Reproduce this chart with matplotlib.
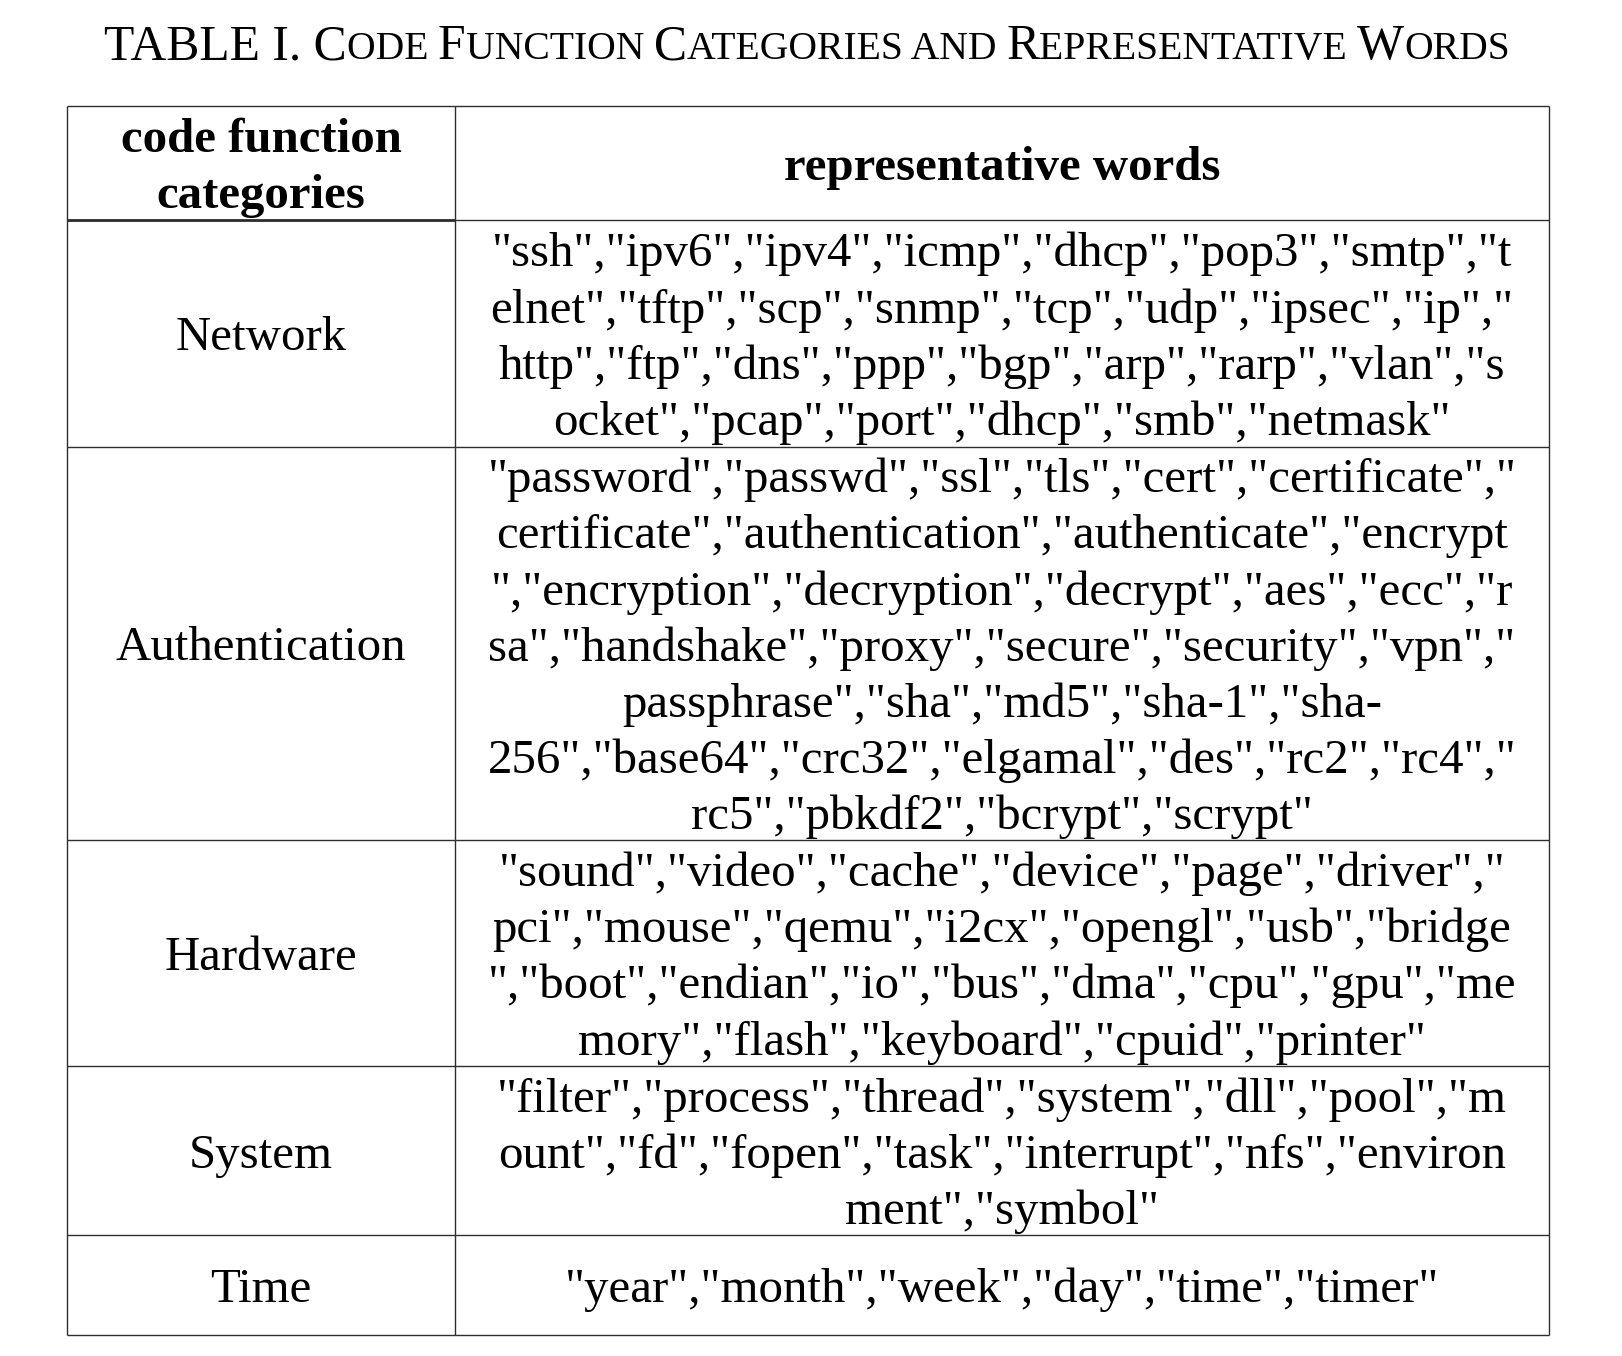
import matplotlib
matplotlib.use("Agg")
from matplotlib import pyplot as plt

# table content, broken into lines the way the reference wraps them
categories = ['Network', 'Authentication', 'Hardware', 'System', 'Time']
network_words = ['"ssh","ipv6","ipv4","icmp","dhcp","pop3","smtp","t',
                 'elnet","tftp","scp","snmp","tcp","udp","ipsec","ip","',
                 'http","ftp","dns","ppp","bgp","arp","rarp","vlan","s',
                 'ocket","pcap","port","dhcp","smb","netmask"']
auth_words = ['"password","passwd","ssl","tls","cert","certificate","',
              'certificate","authentication","authenticate","encrypt',
              '","encryption","decryption","decrypt","aes","ecc","r',
              'sa","handshake","proxy","secure","security","vpn","',
              'passphrase","sha","md5","sha-1","sha-',
              '256","base64","crc32","elgamal","des","rc2","rc4","',
              'rc5","pbkdf2","bcrypt","scrypt"']
hardware_words = ['"sound","video","cache","device","page","driver","',
                  'pci","mouse","qemu","i2cx","opengl","usb","bridge',
                  '","boot","endian","io","bus","dma","cpu","gpu","me',
                  'mory","flash","keyboard","cpuid","printer"']
system_words = ['"filter","process","thread","system","dll","pool","m',
                'ount","fd","fopen","task","interrupt","nfs","environ',
                'ment","symbol"']
time_words = ['"year","month","week","day","time","timer"']
words = [network_words, auth_words, hardware_words, system_words, time_words]

header_left = ['code function', 'categories']
header_right = 'representative words'

# title in small caps: (text, is_capital)
title_parts = [('TABLE I. C', True), ('ODE ', False), ('F', True), ('UNCTION ', False),
               ('C', True), ('ATEGORIES AND ', False), ('R', True), ('EPRESENTATIVE ', False),
               ('W', True), ('ORDS', False)]

font = 'Liberation Serif'
fs = 35.2
pitch = 56.2
line_col = '#2e2e2e'

W, H = 1622, 1356
fig = plt.figure(figsize=(W / 100, H / 100), dpi=100)
ax = fig.add_axes([0, 0, 1, 1])
ax.set_xlim(0, W)
ax.set_ylim(H, 0)
ax.axis('off')

x0, xdiv, x1 = 67, 455, 1549
row_edges = [106, 220, 447, 840, 1066, 1235, 1335]

# grid lines
for y in row_edges:
    ax.plot([x0, x1], [y, y], color=line_col, lw=1.0, solid_capstyle='butt')
ax.plot([x0, xdiv], [220, 220], color=line_col, lw=2.0, solid_capstyle='butt')
for x in [x0, xdiv, x1]:
    ax.plot([x, x], [row_edges[0], row_edges[-1]], color=line_col, lw=1.0,
            solid_capstyle='butt')

cx_left = (x0 + xdiv) / 2
cx_right = (xdiv + x1) / 2
dy = 5  # text sits a little below the cell centre

# header
hc = (row_edges[0] + row_edges[1]) / 2 + dy
for i, t in enumerate(header_left):
    ax.text(cx_left, hc + (i - 0.5) * pitch, t, family=font, fontsize=fs,
            weight='bold', ha='center', va='center')
ax.text(cx_right, hc, header_right, family=font, fontsize=fs, weight='bold',
        ha='center', va='center')

# body rows
for r, (cat, lines) in enumerate(zip(categories, words)):
    yc = (row_edges[r + 1] + row_edges[r + 2]) / 2 + dy
    ax.text(cx_left, yc, cat, family=font, fontsize=fs, ha='center', va='center')
    n = len(lines)
    for i, t in enumerate(lines):
        ax.text(cx_right, yc + (i - (n - 1) / 2) * pitch, t, family=font,
                fontsize=fs, ha='center', va='center')

# title, built piece by piece for small caps
renderer = fig.canvas.get_renderer()
title_left, title_right = 104, 1511
big = 32
ratio = 0.8
pieces = []
for t, cap in title_parts:
    txt = ax.text(0, 59, t, family=font, fontsize=big if cap else big * ratio,
                  ha='left', va='baseline')
    pieces.append(txt)
total = sum(p.get_window_extent(renderer).width for p in pieces)
scale = (title_right - title_left) / total
for p, (t, cap) in zip(pieces, title_parts):
    p.set_fontsize(big * scale if cap else big * ratio * scale)
x = title_left
for p in pieces:
    p.set_x(x)
    x += p.get_window_extent(renderer).width

fig.savefig('out.png', dpi=100, facecolor='white')
